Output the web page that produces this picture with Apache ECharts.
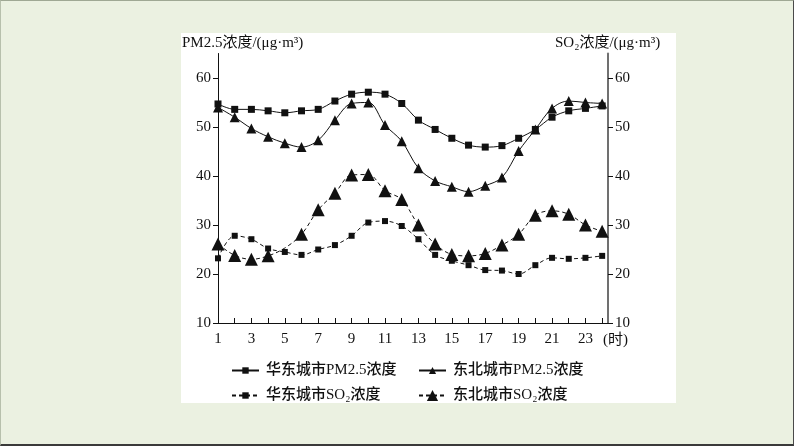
<!DOCTYPE html>
<html>
<head>
<meta charset="utf-8">
<script src="https://cdn.jsdelivr.net/npm/echarts@6/dist/echarts.min.js"></script>
<style>
  html, body { margin: 0; padding: 0; }
  body { width: 794px; height: 446px; background: #ebf1e1; position: relative; overflow: hidden; }
  #frame { position: absolute; left: 0; top: 0; width: 792px; height: 443px;
    border-top: 1px solid #9fa894; border-left: 1px solid #b7c0ac;
    border-right: 1px solid #4a4a4a; border-bottom: 2px solid #3a3a3a; }
  #panel { position: absolute; left: 181px; top: 33px; width: 495px; height: 370px; background: #fff; }
  #chart { position: absolute; left: 0; top: 0; width: 794px; height: 446px; }
</style>
</head>
<body>
<div id="frame"></div>
<div id="panel"></div>
<div id="chart"></div>
<script>
// ---- Data ----
const HOURS = [1, 2, 3, 4, 5, 6, 7, 8, 9, 10, 11, 12, 13, 14, 15, 16, 17, 18, 19, 20, 21, 22, 23, 24]
const HOUR_LABELS = [1, 3, 5, 7, 9, 11, 13, 15, 17, 19, 21, 23]
const Y_TICKS = [10, 20, 30, 40, 50, 60]

const eastPM = [54.7, 53.6, 53.6, 53.3, 52.9, 53.3, 53.6, 55.3, 56.7, 57.1, 56.7, 54.8,
  51.4, 49.5, 47.7, 46.3, 45.9, 46.2, 47.7, 49.5, 52.0, 53.3, 53.8, 54.3]
const northPM = [54.0, 52.0, 49.7, 48.0, 46.7, 45.9, 47.3, 51.4, 54.8, 55.0, 50.4, 47.1,
  41.6, 39.0, 37.8, 36.8, 38.0, 39.7, 45.1, 49.5, 53.8, 55.3, 55.0, 54.8]
const eastSO2 = [23.2, 27.8, 27.1, 25.2, 24.5, 23.9, 25.0, 25.9, 27.8, 30.5, 30.8, 29.8,
  27.1, 23.9, 22.7, 21.8, 20.8, 20.7, 20.0, 21.8, 23.3, 23.1, 23.3, 23.7]
const northSO2 = [26.1, 23.8, 23.0, 23.7, 25.3, 28.1, 33.1, 36.5, 40.2, 40.3, 37.0, 35.2,
  30.0, 26.1, 24.0, 23.7, 24.2, 25.9, 28.1, 32.0, 32.9, 32.2, 30.0, 28.7]

const NAMES = ['华东城市PM2.5浓度', '东北城市PM2.5浓度', '华东城市SO₂浓度', '东北城市SO₂浓度']

const INK = '#111'
const SERIF = '"Liberation Serif", "Noto Sans CJK SC", serif'
const CJK = '"Liberation Serif", "Noto Sans CJK SC", sans-serif'

function pairs(values, hideIdx) {
  return values.map((v, i) => {
    const item = { value: [HOURS[i], v] }
    if (i === hideIdx) item.symbol = 'none'
    return item
  })
}

function lineSeries(name, values, opts) {
  return {
    name,
    type: 'line',
    yAxisIndex: opts.yAxis,
    data: pairs(values, opts.hideIdx),
    smooth: 0.35,
    symbol: opts.symbol,
    symbolSize: opts.size,
    showAllSymbol: true,
    lineStyle: { color: INK, width: 1, type: opts.dashed ? [4, 3] : 'solid' },
    itemStyle: { color: INK },
    emphasis: { disabled: true },
  }
}

function legendAt(name, left, top, iconH) {
  return {
    data: [name],
    left, top,
    itemWidth: 27,
    itemHeight: iconH,
    selectedMode: false,
    textStyle: { color: INK, fontSize: 15, fontWeight: 500, fontFamily: CJK, padding: [0, 0, 0, 2] },
  }
}

function yAxis(position) {
  return {
    type: 'value',
    position,
    min: 10,
    max: 65,
    interval: 10,
    axisLine: { show: true, lineStyle: { color: position === 'left' ? INK : '#707070', width: position === 'left' ? 1 : 2 } },
    axisTick: { show: true, length: 5, customValues: Y_TICKS, lineStyle: { color: INK } },
    axisLabel: { color: INK, fontSize: 15, fontFamily: SERIF, margin: 7, customValues: Y_TICKS },
    splitLine: { show: false },
  }
}

const chart = echarts.init(document.getElementById('chart'), null, { renderer: 'canvas' })

chart.setOption({
  backgroundColor: 'transparent',
  animation: false,
  grid: { left: 218, right: 186, top: 53.5, bottom: 123 },
  xAxis: {
    type: 'value',
    min: 1,
    max: 24.35,
    interval: 1,
    axisLine: { lineStyle: { color: INK, width: 1 } },
    axisTick: { inside: true, length: 5, customValues: HOURS, lineStyle: { color: INK } },
    axisLabel: { color: INK, fontSize: 15, fontFamily: SERIF, margin: 9, customValues: HOUR_LABELS },
    splitLine: { show: false },
  },
  yAxis: [yAxis('left'), yAxis('right')],
  legend: [
    legendAt(NAMES[0], 226, 358, 8),
    legendAt(NAMES[2], 226, 383, 8),
    legendAt(NAMES[1], 413, 358, 9),
    legendAt(NAMES[3], 413, 383, 14),
  ],
  graphic: [
    { type: 'text', left: 182, top: 36, style: { text: 'PM2.5浓度/(μg·m³)', fill: INK, font: '15px ' + CJK } },
    { type: 'text', left: 555, top: 36, style: { text: 'SO₂浓度/(μg·m³)', fill: INK, font: '15px ' + CJK } },
    { type: 'text', left: 603, top: 333, style: { text: '(时)', fill: INK, font: '15px ' + CJK } },
  ],
  series: [
    lineSeries(NAMES[0], eastPM, { yAxis: 0, symbol: 'rect', size: 7 }),
    lineSeries(NAMES[1], northPM, { yAxis: 0, symbol: 'triangle', size: 10 }),
    lineSeries(NAMES[2], eastSO2, { yAxis: 1, symbol: 'rect', size: 6, dashed: true }),
    lineSeries(NAMES[3], northSO2, { yAxis: 1, symbol: 'triangle', size: 13, dashed: true, hideIdx: 4 }),
  ],
})
</script>
</body>
</html>
